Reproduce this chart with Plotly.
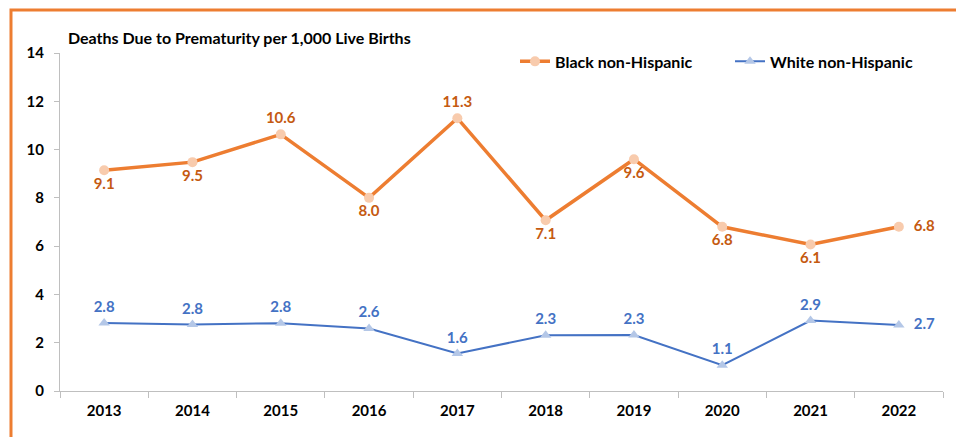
import plotly.graph_objects as go

years = ['2013', '2014', '2015', '2016', '2017', '2018', '2019', '2020', '2021', '2022']
black = [9.14, 9.48, 10.63, 8.0, 11.3, 7.07, 9.6, 6.8, 6.07, 6.8]
white = [2.82, 2.75, 2.81, 2.59, 1.55, 2.31, 2.32, 1.07, 2.92, 2.73]

black_pos = ['bottom center', 'bottom center', 'top center', 'bottom center', 'top center',
             'bottom center', 'bottom center', 'bottom center', 'bottom center', 'middle right']
white_pos = ['top center'] * 9 + ['middle right']

font_name = 'Lato'


def labels(vals, pos):
    # right-side labels get a little extra gap from the marker
    out = []
    for v, p in zip(vals, pos):
        t = '<b>%.1f</b>' % v
        if p == 'middle right':
            t = '\u00a0\u00a0' + t
        out.append(t)
    return out


fig = go.Figure()

fig.add_trace(go.Scatter(
    x=years, y=black, name='<b>Black non-Hispanic</b>',
    mode='lines+markers+text',
    line=dict(color='#ED7D31', width=3.5),
    marker=dict(symbol='circle', size=10, color='#F8CBAD'),
    text=labels(black, black_pos),
    textposition=black_pos,
    textfont=dict(family=font_name, size=15, color='#C55A11'),
    cliponaxis=False, legend='legend',
))

fig.add_trace(go.Scatter(
    x=years, y=white, name='<b>White non-Hispanic</b>',
    mode='lines+markers+text',
    line=dict(color='#4472C4', width=2),
    marker=dict(symbol='triangle-up', size=10, color='#B4C7E7'),
    text=labels(white, white_pos),
    textposition=white_pos,
    textfont=dict(family=font_name, size=15, color='#4472C4'),
    cliponaxis=False, legend='legend2',
))

# orange frame around the chart
fig.add_shape(type='rect', xref='paper', yref='paper',
              x0=-0.0555, x1=1.019, y0=-0.3, y1=1.127,
              line=dict(color='#ED7D31', width=3), layer='below')

leg_style = dict(orientation='h', xanchor='left', yanchor='middle', y=0.975,
                 font=dict(family=font_name, size=16, color='black'),
                 bgcolor='rgba(0,0,0,0)', itemwidth=30)

# page body adds ~8px offset, so the figure is drawn slightly smaller
W, H = 956, 429
fig.update_layout(
    width=W, height=H,
    margin=dict(l=52, r=21, t=45, b=46),
    plot_bgcolor='white', paper_bgcolor='white',
    font=dict(family=font_name, size=14, color='black'),
    title=dict(text='<b>Deaths Due to Prematurity per 1,000 Live Births</b>',
               x=60 / W, xanchor='left', y=1 - 30 / H, yanchor='middle',
               font=dict(family=font_name, size=16, color='black')),
    legend=dict(x=(515 - 60) / 883, **leg_style),
    legend2=dict(x=(730 - 60) / 883, **leg_style),
    showlegend=True,
)

fig.update_xaxes(type='category', range=[-0.5, 9.5], showgrid=False,
                 showline=True, linecolor='#BFBFBF', linewidth=1,
                 ticks='outside', tickson='boundaries', ticklen=6, tickcolor='#BFBFBF',
                 tickvals=years, ticktext=['<b>%s</b>' % y for y in years],
                 ticklabelstandoff=6,
                 tickfont=dict(family=font_name, size=15, color='black'))
fig.update_yaxes(range=[0, 14], dtick=2, showgrid=False, zeroline=False,
                 showline=True, linecolor='#BFBFBF', linewidth=1,
                 ticks='outside', ticklen=5, tickcolor='#BFBFBF',
                 tickvals=list(range(0, 15, 2)),
                 ticktext=['<b>%d</b>' % v for v in range(0, 15, 2)],
                 ticklabelstandoff=7,
                 tickfont=dict(family=font_name, size=15, color='black'))

fig.write_html('out.html')
